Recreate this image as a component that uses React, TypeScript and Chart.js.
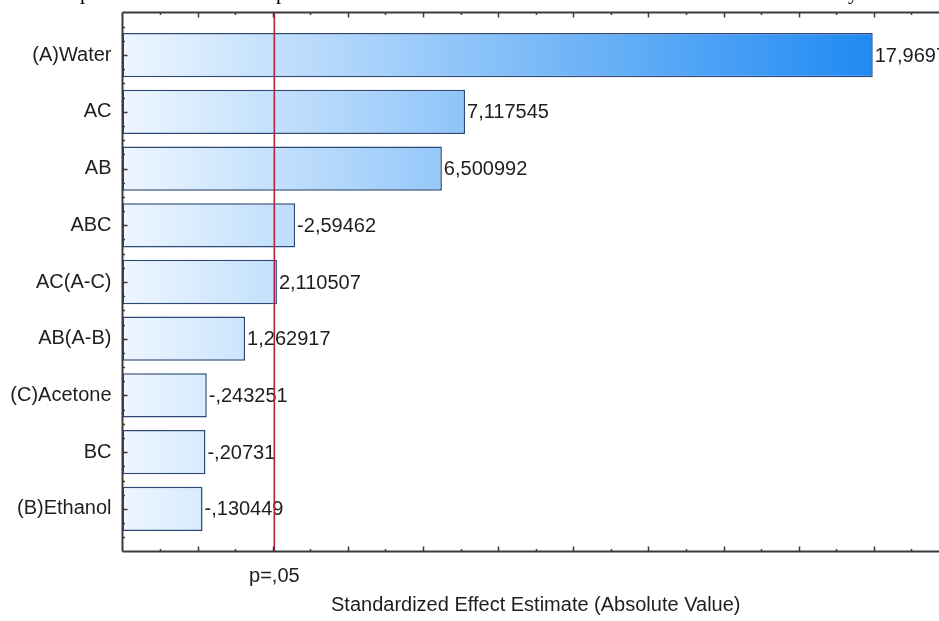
import { useEffect, useRef } from 'react';
import { Chart, registerables } from 'chart.js';

Chart.register(...registerables);

// Effects, sorted by absolute size (signed standardized estimates)
const CATEGORIES = ['(A)Water', 'AC', 'AB', 'ABC', 'AC(A-C)', 'AB(A-B)', '(C)Acetone', 'BC', '(B)Ethanol'];
const EFFECTS = [17.9697, 7.117545, 6.500992, -2.59462, 2.110507, 1.262917, -0.243251, -0.20731, -0.130449];

// Significance cut-off (t critical at p = .05)
const P_CRITICAL = 2.042;
const P_LABEL = 'p=,05';

// Value axis range and ticks
const AXIS_MIN = -2;
const AXIS_MAX = 20;
const MAJOR_STEP = 2;
const MINOR_STEP = 1;

const AXIS_TITLE = 'Standardized Effect Estimate (Absolute Value)';

// Tail of the caption line that sits above the figure
const CAPTION_BITS = [
  { text: 'p', x: 80 },
  { text: 'p', x: 276 },
  { text: 'y', x: 848 },
];

const SANS = '"Liberation Sans", Arial, sans-serif';
const FONT_SIZE = 20;
const TEXT_COLOR = '#1e1e1e';
const AXIS_COLOR = '#3a3a3a';

// Statistica-style number: comma decimal, no leading zero
function formatEffect(v: number): string {
  let s = String(Math.abs(v));
  if (s.startsWith('0.')) s = s.slice(1);
  s = s.replace('.', ',');
  return (v < 0 ? '-' : '') + s;
}

const framePlugin = {
  id: 'paretoFrame',
  afterDatasetsDraw(chart: any) {
    const { ctx, chartArea } = chart;
    const xs = chart.scales.x;
    const ys = chart.scales.y;
    const { left, right, top, bottom } = chartArea;

    ctx.save();

    // value labels at bar ends
    ctx.font = `${FONT_SIZE}px ${SANS}`;
    ctx.fillStyle = TEXT_COLOR;
    ctx.textAlign = 'left';
    ctx.textBaseline = 'middle';
    EFFECTS.forEach((e, i) => {
      const px = xs.getPixelForValue(Math.abs(e));
      const py = ys.getPixelForValue(i);
      ctx.fillText(formatEffect(e), px + 2, py + 1);
    });

    // p = .05 reference line
    const pX = xs.getPixelForValue(P_CRITICAL);
    ctx.strokeStyle = '#b3223c';
    ctx.lineWidth = 1.6;
    ctx.beginPath();
    ctx.moveTo(pX, top);
    ctx.lineTo(pX, bottom);
    ctx.stroke();

    // frame
    ctx.strokeStyle = AXIS_COLOR;
    ctx.lineWidth = 2;
    ctx.beginPath();
    ctx.moveTo(left, top);
    ctx.lineTo(right, top);
    ctx.moveTo(left, bottom);
    ctx.lineTo(right, bottom);
    ctx.moveTo(left, top);
    ctx.lineTo(left, bottom);
    ctx.moveTo(right, top);
    ctx.lineTo(right, bottom);
    ctx.stroke();

    // inward ticks on top and bottom
    ctx.lineWidth = 1.5;
    ctx.beginPath();
    for (let v = AXIS_MIN + MINOR_STEP; v < AXIS_MAX; v += MINOR_STEP) {
      const x = Math.round(xs.getPixelForValue(v)) + 0.5;
      const len = (v - AXIS_MIN) % MAJOR_STEP === 0 ? 5 : 2.5;
      ctx.moveTo(x, top);
      ctx.lineTo(x, top + len);
      ctx.moveTo(x, bottom);
      ctx.lineTo(x, bottom - len);
    }
    // inward ticks on the left
    const yMin = ys.min;
    const yMax = ys.max;
    for (let k = 1; yMin + k * 0.25 < yMax; k++) {
      const v = yMin + k * 0.25;
      const y = Math.round(ys.getPixelForValue(v)) + 0.5;
      const len = Number.isInteger(v) ? 5 : 2.5;
      ctx.moveTo(left, y);
      ctx.lineTo(left + len, y);
    }
    ctx.stroke();

    // p label under the reference line
    ctx.fillStyle = TEXT_COLOR;
    ctx.font = `${FONT_SIZE}px ${SANS}`;
    ctx.textAlign = 'center';
    ctx.textBaseline = 'alphabetic';
    ctx.fillText(P_LABEL, pX, 582);

    // axis title
    ctx.fillText(AXIS_TITLE, (left + right) / 2, 611);

    // caption tail
    ctx.font = '21px "Liberation Serif", "Times New Roman", serif';
    ctx.textAlign = 'left';
    ctx.fillStyle = '#000';
    CAPTION_BITS.forEach((b) => ctx.fillText(b.text, b.x, -1.5));

    ctx.restore();
  },
};

export default function App() {
  const canvasRef = useRef<HTMLCanvasElement>(null);

  useEffect(() => {
    const canvas = canvasRef.current;
    if (!canvas) return;

    const chart = new Chart(canvas, {
      type: 'bar',
      data: {
        datasets: [
          {
            data: EFFECTS.map((e, i) => ({ x: Math.abs(e), y: i })),
            base: AXIS_MIN,
            backgroundColor: (c: any) => {
              const area = c.chart.chartArea;
              if (!area) return '#8cc4f8';
              const g = c.chart.ctx.createLinearGradient(area.left, 0, area.right, 0);
              g.addColorStop(0, '#eef6ff');
              g.addColorStop(0.45, '#86c0f8');
              g.addColorStop(1, '#0b7ff2');
              return g;
            },
            borderColor: '#2a4878',
            borderWidth: 1.5,
            borderSkipped: false,
            barPercentage: 0.78,
            categoryPercentage: 1,
          } as any,
        ],
      },
      options: {
        indexAxis: 'y',
        animation: false,
        responsive: false,
        events: [],
        layout: { padding: { top: 12.5, right: 11, left: 0, bottom: 0 } },
        plugins: {
          legend: { display: false },
          tooltip: { enabled: false },
        },
        scales: {
          x: {
            type: 'linear',
            min: AXIS_MIN,
            max: AXIS_MAX,
            offset: false,
            ticks: { display: false },
            grid: { display: false, drawTicks: false },
            border: { display: false },
            afterFit: (s: any) => {
              s.height = 69.5;
              s.paddingLeft = 0;
              s.paddingRight = 0;
            },
          },
          y: {
            type: 'linear',
            reverse: true,
            offset: false,
            min: -0.75,
            max: 8.75,
            afterBuildTicks: (s: any) => {
              s.ticks = CATEGORIES.map((_, i) => ({ value: i }));
            },
            ticks: {
              callback: (_v: any, i: number) => CATEGORIES[i],
              font: { family: SANS, size: FONT_SIZE },
              color: TEXT_COLOR,
              padding: 11,
              autoSkip: false,
            },
            grid: { display: false, drawTicks: false, offset: false },
            border: { display: false },
            afterFit: (s: any) => {
              s.width = 122.5;
              s.paddingTop = 0;
              s.paddingBottom = 0;
            },
          },
        },
      } as any,
      plugins: [framePlugin],
    });

    return () => chart.destroy();
  }, []);

  return (
    <div
      style={{
        position: 'absolute',
        left: 0,
        top: 0,
        width: 939,
        height: 621,
        overflow: 'hidden',
        background: '#fff',
      }}
    >
      <canvas ref={canvasRef} width={960} height={621} style={{ width: 960, height: 621, display: 'block' }} />
    </div>
  );
}
